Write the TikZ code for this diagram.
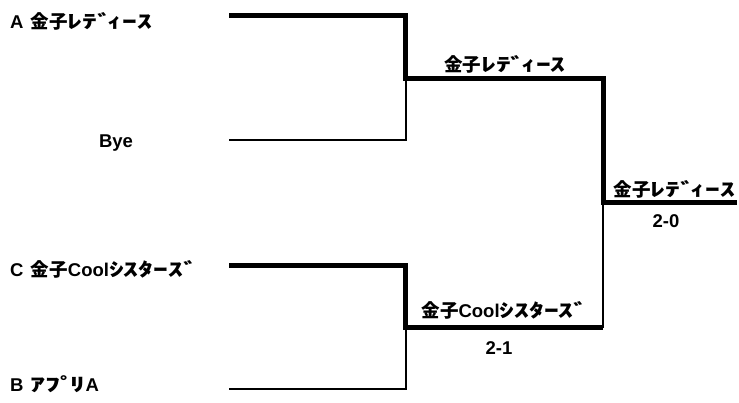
\documentclass[tikz,border=0pt]{standalone}
\usepackage{fontspec}
\setmainfont{Liberation Sans}
\newfontfamily\jp{Noto Sans CJK JP}
\usepackage{graphicx}
\newcommand{\hk}[1]{\scalebox{1.6}[1]{{\jp #1}}}
\newcommand{\kj}[1]{{\jp #1}}
\begin{document}
\begin{tikzpicture}[x=1pt,y=-1pt,
  font=\fontsize{18.5}{20}\selectfont\bfseries,
  win/.style={line width=5pt},
  lose/.style={line width=2pt},
  lbl/.style={inner sep=0pt, anchor=base west},
  res/.style={inner sep=0pt, anchor=base}]
\useasboundingbox (0,0) rectangle (739,403);
% bracket points
\coordinate (a0) at (229,15.5);
\coordinate (a1) at (405.5,15.5);
\coordinate (s1) at (405.5,79);
\coordinate (y0) at (229,140);
\coordinate (y1) at (406,140);
\coordinate (s1b) at (406,79);
\coordinate (s1r) at (603,79);
\coordinate (f) at (603,203);
\coordinate (fr) at (737,203);
\coordinate (c0) at (229,265.5);
\coordinate (c1) at (405.5,265.5);
\coordinate (s2) at (405.5,328);
\coordinate (b0) at (229,389);
\coordinate (b1) at (406,389);
\coordinate (s2b) at (406,328);
\coordinate (s2r) at (603,328);
% losing lines
\draw[lose] (y0) -- (y1) -- (s1b);
\draw[lose] (b0) -- (b1) -- (s2b);
\draw[lose] (s2r) -- (f);
% winning lines
\draw[win] (a0) -- (a1) -- (s1) -- (s1r) -- (f) -- (fr);
\draw[win] (c0) -- (c1) -- (s2) -- (s2r);
% labels
\node[lbl] (tA) at (10,29) {A\hspace{0.4em}\kj{金子}\hk{ﾚﾃﾞ\kern-0.15emｨｰｽ}};
\node[res] (tY) at (116,148) {Bye};
\node[lbl] (tC) at (10,277) {C\hspace{0.4em}\kj{金子}Cool\hk{ｼｽﾀｰｽﾞ}};
\node[lbl] (tB) at (10,391) {B\hspace{0.4em}\hk{ｱﾌﾟ\kern-0.15emﾘ}A};
\node[res] (w1) at (505,72) {\kj{金子}\hk{ﾚﾃﾞ\kern-0.15emｨｰｽ}};
\node[res] (w2) at (505,318) {\kj{金子}Cool\hk{ｼｽﾀｰｽﾞ}};
\node[res] (r2) at (499,355) {2-1};
\node[res] (r3) at (666,228) {2-0};
\node[res] (w3) at (674.5,197) {\kj{金子}\hk{ﾚﾃﾞ\kern-0.15emｨｰｽ}};
\end{tikzpicture}
\end{document}
